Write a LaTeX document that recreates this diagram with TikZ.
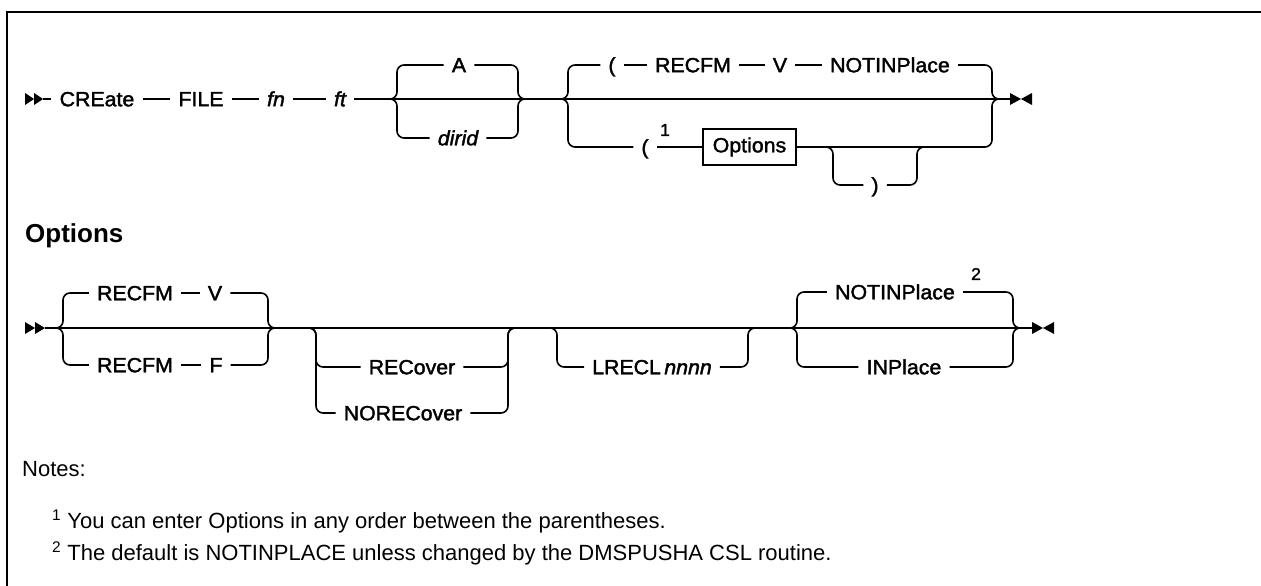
\documentclass[tikz,border=0pt]{standalone}
\usepackage{fontspec}
\setmainfont{Liberation Sans}
\newfontfamily\dfont[FakeBold=1.8,FakeStretch=1.04]{Liberation Sans}
\usetikzlibrary{calc}
\begin{document}
\begin{tikzpicture}[x=1pt,y=-1pt,
  rail/.style={line width=1.6pt, rounded corners=7pt},
  lbl/.style={font=\dfont\fontsize{20.5}{24}\selectfont, inner xsep=8pt, inner ysep=0pt, text height=14.5pt, text depth=0pt},
  sup/.style={font=\dfont\fontsize{17}{19}\selectfont, inner sep=0pt},
  boxed/.style={draw, line width=1.3pt, font=\dfont\fontsize{20.5}{24}\selectfont, minimum width=93pt, minimum height=36pt, inner sep=0pt},
  tip/.style={fill=black},
  head/.style={font=\bfseries\fontsize{26}{30}\selectfont, inner sep=0pt},
  note/.style={font=\fontsize{22}{26}\selectfont, inner sep=0pt}]
\useasboundingbox (0,0) rectangle (1261,586);
% frame
\draw[line width=2.5pt] (7,586) -- (7,12) -- (1261,12);

% ---------- row 1 ----------
\coordinate (s1) at (43,99);
\coordinate (e1) at (1010,99);
\fill[tip] (25,93) -- (34,99) -- (25,105) -- cycle;
\fill[tip] (34,93) -- (43,99) -- (34,105) -- cycle;
\fill[tip] (1010,93) -- (1021,99) -- (1010,105) -- cycle;
\fill[tip] (1032,93) -- (1021,99) -- (1032,105) -- cycle;

\node[lbl] (create) at (97,99) {CREate};
\node[lbl] (file) at (201,99) {FILE};
\node[lbl] (fn) at (276,99) {\itshape fn};
\node[lbl] (ft) at (340,99) {\itshape ft};
\draw[rail] (s1) -- (create.west);
\draw[rail] (create.east) -- (file.west);
\draw[rail] (file.east) -- (fn.west);
\draw[rail] (fn.east) -- (ft.west);
\draw[rail] (ft.east) -- (e1);

% choice A / dirid
\coordinate (c1l) at (397,99);
\coordinate (c1r) at (518,99);
\node[lbl] (A) at (459,65) {A};
\node[lbl] (dirid) at (458,138) {\itshape dirid};
\draw[rail] (A.west) -| (c1l) -- ++(-8,0);
\draw[rail] (dirid.west) -| (c1l) -- ++(-8,0);
\draw[rail] (A.east) -| (c1r) -- ++(8,0);
\draw[rail] (dirid.east) -| (c1r) -- ++(8,0);

% choice options
\coordinate (c2l) at (568,99);
\coordinate (c2r) at (992,99);
\node[lbl] (lp1) at (612,65) {(};
\node[lbl] (recfm1) at (693,65) {RECFM};
\node[lbl] (v1) at (780,65) {V};
\node[lbl] (notin1) at (890,65) {NOTINPlace};
\draw[rail] (lp1.west) -| (c2l) -- ++(-8,0);
\draw[rail] (lp1.east) -- (recfm1.west);
\draw[rail] (recfm1.east) -- (v1.west);
\draw[rail] (v1.east) -- (notin1.west);
\draw[rail] (notin1.east) -| (c2r) -- ++(8,0);

\node[lbl] (lp2) at (645,147) {(};
\node[sup] (n1) at (665,130) {1};
\node[boxed] (opt) at (749.5,147) {Options};
\draw[rail] (lp2.west) -| (c2l) -- ++(-8,0);
\draw[rail] (lp2.east) -- (opt.west);
\draw[rail] (opt.east) -| (c2r) -- ++(8,0);

\coordinate (c3l) at (833,147);
\coordinate (c3r) at (917,147);
\node[lbl] (rp) at (875,185) {)};
\draw[rail] (rp.west) -| (c3l) -- ++(-8,0);
\draw[rail] (rp.east) -| (c3r) -- ++(8,0);

% ---------- heading ----------
\node[head, anchor=west] (opthead) at (25,236) {Options};

% ---------- row 2 ----------
\coordinate (s2) at (45,328);
\coordinate (e2) at (1032,328);
\fill[tip] (25,322) -- (35,328) -- (25,334) -- cycle;
\fill[tip] (35,322) -- (45,328) -- (35,334) -- cycle;
\fill[tip] (1032,322) -- (1043,328) -- (1032,334) -- cycle;
\fill[tip] (1054,322) -- (1043,328) -- (1054,334) -- cycle;
\draw[rail] (s2) -- (e2);

\coordinate (c4l) at (63,328);
\coordinate (c4r) at (268,328);
\node[lbl] (recfmA) at (135,293) {RECFM};
\node[lbl] (vA) at (215,293) {V};
\node[lbl] (recfmB) at (135,365) {RECFM};
\node[lbl] (fB) at (216,365) {F};
\draw[rail] (recfmA.west) -| (c4l) -- ++(-8,0);
\draw[rail] (recfmA.east) -- (vA.west);
\draw[rail] (vA.east) -| (c4r) -- ++(8,0);
\draw[rail] (recfmB.west) -| (c4l) -- ++(-8,0);
\draw[rail] (recfmB.east) -- (fB.west);
\draw[rail] (fB.east) -| (c4r) -- ++(8,0);

\coordinate (c5l) at (316,328);
\coordinate (c5r) at (508,328);
\node[lbl] (recov) at (412,367) {RECover};
\node[lbl] (norecov) at (403,413) {NORECover};
\draw[rail] (recov.west) -| (c5l) -- ++(-8,0);
\draw[rail] (norecov.west) -| (c5l) -- ++(-8,0);
\draw[rail] (recov.east) -| (c5r) -- ++(8,0);
\draw[rail] (norecov.east) -| (c5r) -- ++(8,0);

\coordinate (c6l) at (557,328);
\coordinate (c6r) at (748,328);
\node[lbl] (lrecl) at (652,367) {LRECL\,\itshape nnnn};
\draw[rail] (lrecl.west) -| (c6l) -- ++(-8,0);
\draw[rail] (lrecl.east) -| (c6r) -- ++(8,0);

\coordinate (c7l) at (797,328);
\coordinate (c7r) at (1013,328);
\node[lbl] (notin2) at (895,292) {NOTINPlace};
\node[sup] (n2) at (976,274) {2};
\node[lbl] (inpl) at (904,367) {INPlace};
\draw[rail] (notin2.west) -| (c7l) -- ++(-8,0);
\draw[rail] (inpl.west) -| (c7l) -- ++(-8,0);
\draw[rail] (notin2.east) -| (c7r) -- ++(8,0);
\draw[rail] (inpl.east) -| (c7r) -- ++(8,0);

% ---------- notes ----------
\node[note, anchor=base west] (notes) at (22,476) {Notes:};
\node[note, anchor=base west] (fn1) at (52,528) {\textsuperscript{1} You can enter Options in any order between the parentheses.};
\node[note, anchor=base west] (fn2) at (52,560) {\textsuperscript{2} The default is NOTINPLACE unless changed by the DMSPUSHA CSL routine.};
\end{tikzpicture}
\end{document}
